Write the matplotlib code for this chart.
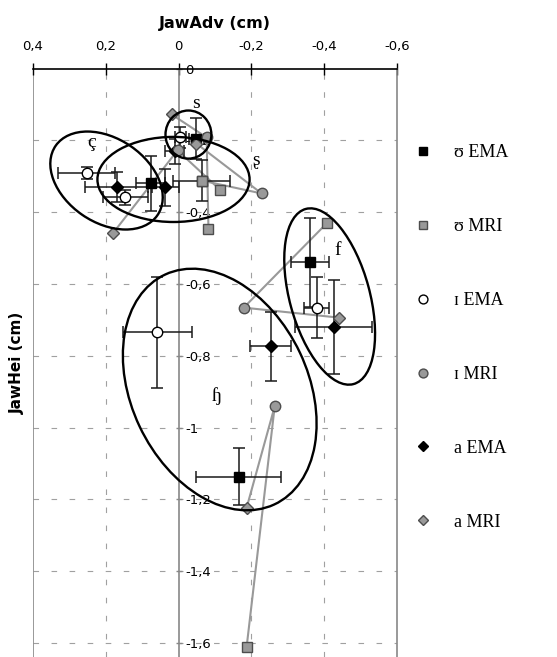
import matplotlib
matplotlib.use('Agg')
import matplotlib.pyplot as plt
from matplotlib.patches import Ellipse
from matplotlib.ticker import FixedLocator, FuncFormatter

plt.rcParams['lines.scale_dashes'] = False
plt.rcParams['font.family'] = ['DejaVu Sans']

# consonant contexts
consonants = ['s', 'ʂ', 'ç', 'f', 'ɧ']

# EMA means (JawAdv, JawHei) with standard deviations
u_ema_x = [-0.049, -0.063, 0.077, -0.360, -0.165]
u_ema_y = [-0.195, -0.312, -0.320, -0.540, -1.137]
u_ema_xerr = [0.020, 0.078, 0.040, 0.052, 0.116]
u_ema_yerr = [0.058, 0.058, 0.077, 0.125, 0.080]

i_ema_x = [-0.005, 0.146, 0.253, -0.379, 0.058]
i_ema_y = [-0.192, -0.359, -0.292, -0.666, -0.735]
i_ema_xerr = [0.015, 0.062, 0.078, 0.034, 0.095]
i_ema_yerr = [0.030, 0.021, 0.017, 0.084, 0.155]

a_ema_x = [0.011, 0.036, 0.170, -0.426, -0.253]
a_ema_y = [-0.231, -0.331, -0.331, -0.721, -0.774]
a_ema_xerr = [0.025, 0.037, 0.087, 0.106, 0.057]
a_ema_yerr = [0.035, 0.051, 0.042, 0.131, 0.095]

# MRI values
u_mri_x = [-0.082, -0.063, -0.113, -0.409, -0.187]
u_mri_y = [-0.446, -0.312, -0.337, -0.429, -1.610]
i_mri_x = [-0.077, -0.228, 0.003, -0.179, -0.264]
i_mri_y = [-0.192, -0.348, -0.228, -0.666, -0.941]
a_mri_x = [0.019, -0.049, 0.179, -0.442, -0.187]
a_mri_y = [-0.128, -0.209, -0.457, -0.694, -1.223]

# consonant ellipses (centre, width, height, angle) and label positions
ell_cx = [-0.027, 0.014, 0.198, -0.415, -0.113]
ell_cy = [-0.184, -0.309, -0.312, -0.635, -0.894]
ell_w = [0.126, 0.418, 0.340, 0.505, 0.707]
ell_h = [0.134, 0.237, 0.233, 0.220, 0.486]
ell_ang = [0, 0, 35, 75, 65]
lab_x = [-0.049, -0.214, 0.239, -0.437, -0.104]
lab_y = [-0.097, -0.256, -0.206, -0.507, -0.911]

x_ticks = [0.4, 0.2, 0.0, -0.2, -0.4, -0.6]
y_ticks = [0.0, -0.2, -0.4, -0.6, -0.8, -1.0, -1.2, -1.4, -1.6]

W, H = 557, 657
fig = plt.figure(figsize=(W / 100, H / 100), dpi=100)
ax = fig.add_axes([33 / W, 0, 364 / W, 588.5 / H])
ax.set_xlim(0.4, -0.6)
ax.set_ylim(-1.639, 0)

gcol = '#999999'
ecol = '#4d4d4d'

# grid
for gx in [0.2, -0.2, -0.4]:
    ax.axvline(gx, color='#a0a0a0', lw=0.8, ls=(0, (4, 9)), zorder=0)
for gy in y_ticks[1:]:
    ax.axhline(gy, color='#a0a0a0', lw=0.8, ls=(0, (4, 9)), zorder=0)
ax.axvline(0.4, color='#888888', lw=1.2, zorder=1)

# MRI connecting lines
for k in range(len(consonants)):
    ax.plot([u_mri_x[k], i_mri_x[k], a_mri_x[k]],
            [u_mri_y[k], i_mri_y[k], a_mri_y[k]],
            color=gcol, lw=1.5, zorder=2)

# EMA error bars
ekw = dict(fmt='none', ecolor='#1a1a1a', elinewidth=1.1, capsize=4, capthick=1.1, zorder=3)
ax.errorbar(u_ema_x, u_ema_y, xerr=u_ema_xerr, yerr=u_ema_yerr, **ekw)
ax.errorbar(i_ema_x, i_ema_y, xerr=i_ema_xerr, yerr=i_ema_yerr, **ekw)
ax.errorbar(a_ema_x, a_ema_y, xerr=a_ema_xerr, yerr=a_ema_yerr, **ekw)

# markers
h1, = ax.plot(u_ema_x, u_ema_y, ls='none', marker='s', ms=7.5, mfc='black', mec='black', zorder=5, label='ʊ EMA')
h2, = ax.plot(u_mri_x, u_mri_y, ls='none', marker='s', ms=7.5, mfc=gcol, mec=ecol, mew=1, zorder=6, label='ʊ MRI')
h3, = ax.plot(i_ema_x, i_ema_y, ls='none', marker='o', ms=7.5, mfc='white', mec='black', mew=1, zorder=5, label='ɪ EMA')
h4, = ax.plot(i_mri_x, i_mri_y, ls='none', marker='o', ms=7.5, mfc=gcol, mec=ecol, mew=1, zorder=6, label='ɪ MRI')
h5, = ax.plot(a_ema_x, a_ema_y, ls='none', marker='D', ms=6, mfc='black', mec='black', zorder=5, label='a EMA')
h6, = ax.plot(a_mri_x, a_mri_y, ls='none', marker='D', ms=6, mfc=gcol, mec=ecol, mew=1, zorder=6, label='a MRI')

# ellipses and labels
serif = ['Liberation Serif', 'DejaVu Serif']
for k in range(len(consonants)):
    ax.add_patch(Ellipse((ell_cx[k], ell_cy[k]), ell_w[k], ell_h[k], angle=ell_ang[k],
                         fill=False, ec='black', lw=1.7, zorder=8))
    ax.text(lab_x[k], lab_y[k], consonants[k], family=serif, fontsize=14,
            ha='center', va='center', zorder=9)

# axes styling
ax.spines['left'].set_position(('data', 0))
ax.spines['left'].set_color('#888888')
ax.spines['left'].set_linewidth(1.2)
ax.spines['right'].set_color('#888888')
ax.spines['right'].set_linewidth(1.2)
ax.spines['bottom'].set_visible(False)
ax.spines['top'].set_linewidth(1.2)

fmt = FuncFormatter(lambda v, p: ('%g' % round(v, 2)).replace('.', ',') if abs(v) > 1e-9 else '0')
ax.xaxis.set_major_locator(FixedLocator(x_ticks))
ax.yaxis.set_major_locator(FixedLocator(y_ticks))
ax.xaxis.set_major_formatter(fmt)
ax.yaxis.set_major_formatter(fmt)
ax.xaxis.tick_top()
ax.xaxis.set_label_position('top')
ax.tick_params(axis='x', direction='inout', length=9, width=1, labelsize=9.5, pad=6.5)
ax.tick_params(axis='y', direction='inout', length=4, width=1, color='#888888', labelsize=9.5, pad=-7)
for t in ax.yaxis.get_major_ticks():
    t.label1.set_horizontalalignment('left')

ax.set_xlabel('JawAdv (cm)', fontsize=11.5, fontweight='bold', labelpad=9)
ax.set_ylabel('JawHei (cm)', fontsize=11, fontweight='bold')
ax.yaxis.set_label_coords(-0.022, 0.5)

fig.legend(handles=[h1, h2, h3, h4, h5, h6], loc='upper left',
           bbox_to_anchor=(398 / W, 1 - 128 / H), frameon=False,
           prop={'family': serif, 'size': 13}, labelspacing=3.15,
           handlelength=1.0, handletextpad=1.2, markerscale=0.85)

fig.savefig('out.png', dpi=100)
